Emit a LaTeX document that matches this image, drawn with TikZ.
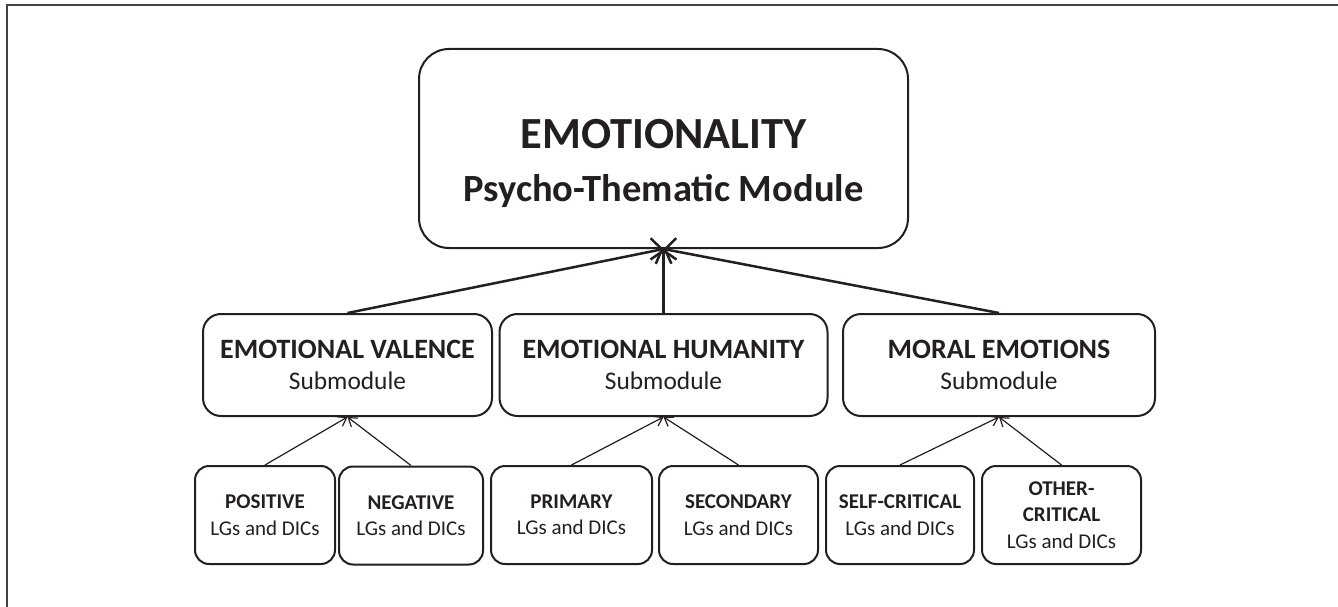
\documentclass[tikz,border=0pt]{standalone}
\usepackage{fontspec}
\setmainfont{Carlito}
\usetikzlibrary{arrows.meta,calc}
\definecolor{ink}{HTML}{231F20}
\begin{document}
\begin{tikzpicture}[x=1pt,y=-1pt,
  every node/.style={text=ink},
  mainbox/.style={draw=ink, line width=2pt, rounded corners=30pt, minimum width=489pt, minimum height=199pt, inner sep=0pt},
  subbox/.style={draw=ink, line width=2pt, rounded corners=18pt, minimum height=102pt, inner sep=0pt, align=center,
     font=\fontsize{25.4}{31}\selectfont},
  leafbox/.style={draw=ink, line width=2pt, rounded corners=14pt, minimum height=98pt, inner sep=0pt, align=center,
     font=\fontsize{21}{26.5}\selectfont},
  toparrow/.style={draw=ink, line width=2.5pt, -{Straight Barb[length=9pt,width=26pt]}},
  botarrow/.style={draw=ink, line width=1.2pt, -{Straight Barb[length=8pt,width=11pt]}}
]
\useasboundingbox (0,0) rectangle (1338,607);
\draw[draw=ink!85, line width=1.5pt] (7,607) -- (7,5) -- (1338,5);

% main module
\node[mainbox] (main) at (663.5,148.5) {};
\node[anchor=base, font=\fontsize{44.5}{52}\selectfont\bfseries] (maintitle) at (663.5,149) {EMOTIONALITY};
\node[anchor=base, font=\fontsize{38.5}{46}\selectfont\bfseries] (mainsub) at (663.5,201) {Psycho-Thematic Module};

% submodules
\node[subbox, minimum width=289pt] (ev) at (347.5,365) {{\fontsize{28}{31}\selectfont\bfseries EMOTIONAL VALENCE}\\Submodule};
\node[subbox, minimum width=328pt] (eh) at (663.5,365) {{\fontsize{28}{31}\selectfont\bfseries EMOTIONAL HUMANITY}\\Submodule};
\node[subbox, minimum width=312pt] (me) at (999,365) {{\fontsize{28}{31}\selectfont\bfseries MORAL EMOTIONS}\\Submodule};

% leaves
\node[leafbox, minimum width=140pt] (pos) at (265,515) {\textbf{POSITIVE}\\LGs and DICs};
\node[leafbox, minimum width=144pt] (neg) at (411,515.5) {\textbf{NEGATIVE}\\LGs and DICs};
\node[leafbox, minimum width=161pt] (pri) at (571.5,515) {\textbf{PRIMARY}\\LGs and DICs};
\node[leafbox, minimum width=159pt] (sec) at (738.5,515) {\textbf{SECONDARY}\\LGs and DICs};
\node[leafbox, minimum width=148pt] (sc) at (900,515) {\textbf{SELF-CRITICAL}\\LGs and DICs};
\node[leafbox, minimum width=159pt] (oc) at (1061.5,515) {\textbf{OTHER-}\\\textbf{CRITICAL}\\LGs and DICs};

% connectors
\draw[toparrow] (ev.north) -- (main.south);
\draw[toparrow] (eh.north) -- (main.south);
\draw[toparrow] (me.north) -- (main.south);

\draw[botarrow] (pos.north) -- (ev.south);
\draw[botarrow] (neg.north) -- (ev.south);
\draw[botarrow] (pri.north) -- (eh.south);
\draw[botarrow] (sec.north) -- (eh.south);
\draw[botarrow] (sc.north) -- (me.south);
\draw[botarrow] (oc.north) -- (me.south);
\end{tikzpicture}
\end{document}
